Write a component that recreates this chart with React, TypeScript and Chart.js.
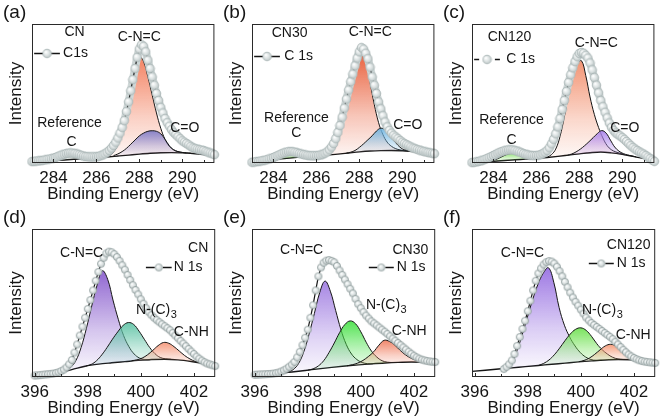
import React, { useEffect, useRef } from "react";
import { Chart, registerables } from "chart.js";

Chart.register(...registerables);

const FONT = '"Liberation Sans", Arial, Helvetica, sans-serif';
const INK = "#151515";

// ---------------- axes ----------------
const C_RANGE = [283, 291.5];
const N_RANGE = [395.9, 402.8];
const C_TICKS = [284, 286, 288, 290];
const C_MINOR = [285, 287, 289, 291];
const N_TICKS = [396, 398, 400, 402];
const N_MINOR = [397, 399, 401];
const Y_RANGE = [0, 100];

const EXP_STEP = 0.1;
const COMP_STEP = 0.2;
const BG_STEP = 0.5;

// ---------------- (a) CN, C 1s ----------------
const A_EXP_X0 = 283.0;
const A_EXP = [
  1.0, 1.2, 1.4, 1.5, 1.7, 1.9, 2.2, 2.5, 2.8, 3.1,
  3.5, 4.0, 4.6, 5.2, 5.8, 6.3, 6.8, 7.1, 7.2, 7.1,
  6.9, 6.5, 6.0, 5.5, 5.0, 4.7, 4.5, 4.4, 4.4, 4.4,
  4.5, 4.8, 5.2, 5.8, 6.6, 7.7, 9.0, 10.7, 12.6, 15.0,
  18.0, 21.5, 25.6, 30.5, 37, 44, 52, 60, 68, 76,
  82, 85, 84, 80, 74, 68, 62, 56, 50, 45,
  40, 36, 32, 29, 26.5, 24, 22, 20.5, 19, 17.5,
  16, 15, 14, 13, 12, 11, 10.5, 10, 9.6, 9.3,
  9, 8.4, 7.8, 7.2, 6.6, 6,
];
const A_BG_X0 = 283.0;
const A_BG = [0.8, 1.2, 1.7, 2.2, 2.7, 3.2, 3.7, 4.3, 5.0, 5.7, 6.4, 7.0, 7.4, 7.5, 7.3, 6.8, 6.0, 5.0];
const A_CNC_X0 = 286.4;
const A_CNC = [4.3, 5.2, 8, 13, 22, 36, 54, 69, 76.5, 73, 62, 49, 36, 25, 17, 12, 9.5, 8.2, 7.6, 7.2];
const A_CO_X0 = 286.8;
const A_CO = [5.3, 6.5, 8.2, 10.5, 13.5, 16.5, 19.5, 21.5, 22.8, 23.2, 22.8, 21, 17, 12.5, 9.5, 8.2, 7.6, 7.3, 7.1];
const A_REF_X0 = 283.8;
const A_REF = [1.6, 2.4, 3.3, 4.4, 5.3, 5.6, 5.3, 4.5, 3.7, 3.4, 3.5];

// ---------------- (b) CN30, C 1s ----------------
const B_EXP_X0 = 283.0;
const B_EXP = [
  0.5, 0.7, 0.9, 1.1, 1.4, 1.7, 2.0, 2.4, 2.9, 3.4,
  4.0, 4.6, 5.3, 6.0, 6.7, 7.3, 7.8, 8.1, 8.2, 8.1,
  7.8, 7.4, 6.9, 6.5, 6.1, 5.8, 5.5, 5.3, 5.2, 5.2,
  5.3, 5.5, 5.8, 6.3, 7.0, 8.0, 9.5, 11.5, 14, 17.5,
  22, 27, 33, 39.5, 46, 52.5, 58.5, 64, 70, 75.5,
  80, 83, 82, 79, 75, 69, 62, 56, 50, 44,
  39, 34, 29.5, 26, 23.5, 21.5, 20, 18.7, 17.5, 16.2,
  15, 14, 13.2, 12.4, 11.6, 10.8, 10.3, 9.8, 9.3, 8.8,
  8.4, 8.0, 7.6, 7.3, 7.0, 6.7,
];
const B_BG_X0 = 283.0;
const B_BG = [0.3, 1.2, 2.2, 3.2, 4.0, 4.6, 5.1, 5.7, 6.4, 7.2, 8.0, 8.6, 8.9, 9.0, 8.8, 8.2, 7.4, 6.6];
const B_CNC_X0 = 286.3;
const B_CNC = [5.5, 6.2, 8.5, 13, 21, 32, 46, 60, 71, 78, 72, 58, 42, 29, 20.5, 15, 12, 10.3, 9.4, 8.9, 8.6];
const B_CO_X0 = 287.4;
const B_CO = [7.1, 7.8, 9.0, 11.2, 13.8, 16.7, 19.6, 23, 25, 24, 20.5, 16.5, 12.8, 10.2, 9.2, 8.7, 8.3, 8.0];
const B_REF_X0 = 283.8;
const B_REF = [1.9, 3.2, 4.2, 5.4, 6.3, 6.6, 6.2, 5.5, 4.9, 4.6, 4.8];

// ---------------- (c) CN120, C 1s ----------------
const C_EXP_X0 = 283.0;
const C_EXP = [
  0.3, 0.5, 0.8, 1.1, 1.5, 2.0, 2.6, 3.2, 3.9, 4.6,
  5.4, 6.2, 7.0, 7.7, 8.3, 8.8, 9.2, 9.4, 9.5, 9.4,
  9.1, 8.6, 8.0, 7.4, 6.8, 6.3, 5.9, 5.6, 5.4, 5.3,
  5.4, 5.6, 6.0, 6.7, 7.7, 9.0, 11, 13.8, 17, 21,
  26, 32, 38.5, 45, 51.5, 58, 63.5, 68.5, 73, 76.5,
  78.8, 79.5, 79, 77.5, 75.5, 72, 67, 61.5, 56, 50.5,
  45, 40.5, 36.5, 32.5, 28.8, 25.7, 23.5, 21.7, 20.5, 19.5,
  18.3, 17, 15.5, 14, 12.5, 11.2, 10, 9, 8, 7.2,
  6.4, 5.4, 4.3, 3.2, 2.2, 1.2,
];
const C_BG_X0 = 283.0;
const C_BG = [0, 0.6, 1.2, 1.8, 2.3, 2.8, 3.3, 4.0, 4.8, 5.7, 6.6, 7.4, 7.9, 7.3, 6.2, 4.8, 3.3, 1.6];
const C_CNC_X0 = 286.5;
const C_CNC = [4.1, 6, 10, 19, 33, 49, 62, 71, 73.6, 63, 47.5, 35, 25.5, 18, 12.5, 9.5, 8, 7, 6];
const C_CO_X0 = 287.45;
const C_CO = [5.6, 6.5, 8.0, 10, 12.5, 15.3, 18.3, 21.3, 23.3, 21.5, 16.5, 11.5, 8.5, 6.8, 5.8, 5.1, 4.4];
const C_REF_X0 = 283.8;
const C_REF = [1.1, 1.9, 3.1, 4.6, 6.0, 6.9, 6.8, 5.9, 4.7, 3.7, 3.2];

// ---------------- (d) CN, N 1s ----------------
const D_EXP_X0 = 396.0;
const D_EXP = [
  1.0, 1.1, 1.3, 1.5, 1.7, 1.9, 2.1, 2.3, 2.7, 3.2,
  4.0, 5.0, 6.5, 8.6, 11.5, 16.5, 22, 28, 34, 40,
  46, 52, 58.5, 65, 71, 76.5, 80.5, 83.5, 84.7, 84.3,
  83, 81, 78.5, 75.5, 72.5, 69, 65.5, 62, 58.8, 55.8,
  52.5, 49.5, 46.5, 43.8, 41.8, 40, 38.4, 37, 35.6, 34.3,
  33, 31.6, 29.8, 28, 26.2, 24.4, 22.6, 20.8, 19, 17.2,
  15.5, 13.8, 12.4, 11.1, 10, 9.1, 8.5, 7.9, 7.4,
];
const D_BG_X0 = 395.9;
const D_BG = [0.5, 1.5, 3.0, 5.0, 7.3, 8.7, 9.6, 10.4, 11.2, 11.8, 12.0, 11.6, 10.5, 9.0, 7.2];
const D_CNC_X0 = 397.15;
const D_CNC = [4.5, 6.5, 11, 20, 33, 48, 62, 71.8, 66, 52, 39, 28, 20.5, 15.5, 12.8, 11.8, 11.7];
const D_NC3_X0 = 397.93;
const D_NC3 = [7.4, 8.5, 11, 15, 20, 25.5, 30.5, 34.8, 36.8, 35.5, 31, 25.5, 20, 15.8, 13.2, 12.3, 12];
const D_CNH_X0 = 399.65;
const D_CNH = [11.0, 11.6, 12.8, 15, 18, 21.2, 23.3, 22.8, 20.5, 17.5, 14.5, 12.2, 10.5, 9.5, 8.9, 8.2];

// ---------------- (e) CN30, N 1s ----------------
const E_EXP_X0 = 396.0;
const E_EXP = [
  1.5, 1.6, 1.7, 1.8, 1.9, 2.0, 2.1, 2.3, 2.6, 3.0,
  3.7, 4.5, 5.6, 6.9, 8.4, 10.2, 13.3, 17, 21.5, 26.5,
  32, 40, 48.5, 58.5, 68, 74, 77.2, 78.6, 79, 78.5,
  77.5, 75, 72, 69, 65.8, 62.7, 59.6, 56.5, 52.8, 49.2,
  46.5, 43.8, 41.5, 39.5, 37.6, 36.2, 34.8, 33.4, 32, 30.6,
  29.1, 27.5, 26, 24.5, 23, 21.5, 20, 18.5, 17.1, 15.7,
  14.4, 13.3, 12.4, 11.7, 11.2, 10.8, 10.5, 10.3, 10.1,
];
const E_BG_X0 = 395.9;
const E_BG = [0.8, 1.6, 2.5, 3.4, 4.4, 5.5, 6.5, 7.4, 8.2, 8.9, 9.5, 9.9, 10.1, 10.0, 9.6];
const E_CNC_X0 = 397.25;
const E_CNC = [3.2, 5, 9, 17, 29, 43, 57, 64.8, 58, 45, 32, 22, 15.5, 11.8, 9.8, 9, 8.9];
const E_NC3_X0 = 398.0;
const E_NC3 = [4.6, 5.5, 7.5, 11, 16.5, 23, 30, 35.5, 37.9, 36, 30.5, 23.5, 17.5, 13.5, 11, 10, 9.8];
const E_CNH_X0 = 399.48;
const E_CNH = [7.6, 8.3, 9.4, 11.2, 13.8, 17, 21.5, 24.8, 24, 21.5, 18, 15, 12.8, 11.3, 10.6, 10.2, 10];

// ---------------- (f) CN120, N 1s ----------------
const F_EXP_X0 = 397.1;
const F_EXP = [
  5.4, 6.8, 8.6, 11.2, 15.5, 21, 27, 32.5, 38,
  44.5, 51.5, 58.5, 65, 70, 73.4, 76, 77.6, 78.3, 78,
  76.7, 74.5, 71.5, 68, 64.3, 60.6, 57, 53.7, 50.8, 48.2,
  45.5, 42.8, 40.2, 38.2, 36.5, 35.1, 33.8, 32.5, 31.1, 29.7,
  28.4, 27.1, 25.6, 23.8, 22, 20.2, 18.4, 16.7, 15.2, 13.9,
  12.9, 12, 11.3, 10.8, 10.4, 10.1, 9.9, 9.7, 9.5,
];
const F_BG_X0 = 395.9;
const F_BG = [3.8, 4.6, 5.4, 6.2, 7.0, 7.8, 8.6, 9.4, 10.2, 10.9, 11.5, 11.8, 11.7, 11.0, 10.0];
const F_CNC_X0 = 397.18;
const F_CNC = [6.4, 9.5, 17, 28, 40, 52, 62.5, 70, 73.8, 64, 47, 35, 27, 21, 16.5, 13.5, 11.8, 11.2, 11.3];
const F_NC3_X0 = 398.4;
const F_NC3 = [7.8, 9.2, 11.5, 15, 19.5, 24.5, 29, 32.2, 33.2, 31.5, 27.5, 22.5, 18.5, 15.5, 13.3, 12.2, 11.8];
const F_CNH_X0 = 399.92;
const F_CNH = [10.3, 11.2, 12.8, 15.3, 18.3, 21, 22.1, 21, 18.5, 15.8, 13.6, 12.2, 11.4, 10.9, 10.4];

// ---------------- panel definitions ----------------
type Comp = { x0: number; v: number[]; color: number[]; a0?: number };
type Label = { t: string; x: number; y: number; align: CanvasTextAlign; sub?: string };
type Panel = {
  id: string; tag: string; col: number; row: number; kind: "C" | "N";
  exp: { x0: number; v: number[] }; bg: { x0: number; v: number[] };
  comps: Comp[]; labels: Label[];
  legend: { x1: number; x2: number; y: number; tx: number; text: string; short?: boolean };
};

const PANELS: Panel[] = [
  {
    id: "a", tag: "(a)", col: 0, row: 0, kind: "C",
    exp: { x0: A_EXP_X0, v: A_EXP }, bg: { x0: A_BG_X0, v: A_BG },
    comps: [
      { x0: A_REF_X0, v: A_REF, color: [190, 210, 190], a0: 0.4 },
      { x0: A_CO_X0, v: A_CO, color: [128, 124, 200] },
      { x0: A_CNC_X0, v: A_CNC, color: [242, 120, 85] },
    ],
    labels: [
      { t: "CN", x: 284.98, y: 94.2, align: "center" },
      { t: "C-N=C", x: 288.0, y: 90.6, align: "center" },
      { t: "C=O", x: 290.12, y: 25.2, align: "center" },
      { t: "Reference", x: 284.75, y: 28.8, align: "center" },
      { t: "C", x: 284.84, y: 15.1, align: "center" },
    ],
    legend: { x1: 283.1, x2: 284.3, y: 79, tx: 284.45, text: "C1s" },
  },
  {
    id: "b", tag: "(b)", col: 1, row: 0, kind: "C",
    exp: { x0: B_EXP_X0, v: B_EXP }, bg: { x0: B_BG_X0, v: B_BG },
    comps: [
      { x0: B_REF_X0, v: B_REF, color: [150, 235, 120] },
      { x0: B_CO_X0, v: B_CO, color: [110, 180, 225] },
      { x0: B_CNC_X0, v: B_CNC, color: [232, 88, 50] },
    ],
    labels: [
      { t: "CN30", x: 284.75, y: 93.5, align: "center" },
      { t: "C-N=C", x: 288.51, y: 94.2, align: "center" },
      { t: "C=O", x: 290.26, y: 27.3, align: "center" },
      { t: "Reference", x: 285.07, y: 32.4, align: "center" },
      { t: "C", x: 285.07, y: 21.6, align: "center" },
    ],
    legend: { x1: 283.1, x2: 284.3, y: 77, tx: 284.5, text: "C 1s" },
  },
  {
    id: "c", tag: "(c)", col: 2, row: 0, kind: "C",
    exp: { x0: C_EXP_X0, v: C_EXP }, bg: { x0: C_BG_X0, v: C_BG },
    comps: [
      { x0: C_REF_X0, v: C_REF, color: [140, 225, 110] },
      { x0: C_CO_X0, v: C_CO, color: [170, 130, 235] },
      { x0: C_CNC_X0, v: C_CNC, color: [242, 140, 105] },
    ],
    labels: [
      { t: "CN120", x: 284.75, y: 90.6, align: "center" },
      { t: "C-N=C", x: 288.79, y: 86.3, align: "center" },
      { t: "C=O", x: 290.12, y: 25.2, align: "center" },
      { t: "Reference", x: 284.84, y: 30.9, align: "center" },
      { t: "C", x: 284.84, y: 16.5, align: "center" },
    ],
    legend: { x1: 283.1, x2: 284.3, y: 74.8, tx: 284.6, text: "C 1s", short: true },
  },
  {
    id: "d", tag: "(d)", col: 0, row: 1, kind: "N",
    exp: { x0: D_EXP_X0, v: D_EXP }, bg: { x0: D_BG_X0, v: D_BG },
    comps: [
      { x0: D_CNH_X0, v: D_CNH, color: [245, 150, 120] },
      { x0: D_NC3_X0, v: D_NC3, color: [95, 195, 165] },
      { x0: D_CNC_X0, v: D_CNC, color: [135, 90, 205] },
    ],
    labels: [
      { t: "C-N=C", x: 397.77, y: 83.8, align: "center" },
      { t: "CN", x: 402.54, y: 87.2, align: "right" },
      { t: "N-(C)", x: 399.82, y: 45.3, align: "left", sub: "3" },
      { t: "C-NH", x: 401.24, y: 30.4, align: "left" },
    ],
    legend: { x1: 400.19, x2: 401.16, y: 74.3, tx: 401.24, text: "N 1s" },
  },
  {
    id: "e", tag: "(e)", col: 1, row: 1, kind: "N",
    exp: { x0: E_EXP_X0, v: E_EXP }, bg: { x0: E_BG_X0, v: E_BG },
    comps: [
      { x0: E_CNH_X0, v: E_CNH, color: [240, 125, 95] },
      { x0: E_NC3_X0, v: E_NC3, color: [70, 225, 70] },
      { x0: E_CNC_X0, v: E_CNC, color: [160, 125, 225] },
    ],
    labels: [
      { t: "C-N=C", x: 397.77, y: 85.8, align: "center" },
      { t: "CN30", x: 402.54, y: 85.8, align: "right" },
      { t: "N-(C)", x: 400.19, y: 48.6, align: "left", sub: "3" },
      { t: "C-NH", x: 401.16, y: 31.1, align: "left" },
    ],
    legend: { x1: 400.3, x2: 401.24, y: 74.3, tx: 401.35, text: "N 1s" },
  },
  {
    id: "f", tag: "(f)", col: 2, row: 1, kind: "N",
    exp: { x0: F_EXP_X0, v: F_EXP }, bg: { x0: F_BG_X0, v: F_BG },
    comps: [
      { x0: F_CNH_X0, v: F_CNH, color: [245, 150, 115] },
      { x0: F_NC3_X0, v: F_NC3, color: [110, 225, 80] },
      { x0: F_CNC_X0, v: F_CNC, color: [150, 110, 225] },
    ],
    labels: [
      { t: "C-N=C", x: 397.8, y: 83.8, align: "center" },
      { t: "CN120", x: 402.62, y: 89.2, align: "right" },
      { t: "N-(C)", x: 400.04, y: 45.3, align: "left", sub: "3" },
      { t: "C-NH", x: 401.31, y: 28.4, align: "left" },
    ],
    legend: { x1: 400.3, x2: 401.24, y: 77, tx: 401.35, text: "N 1s" },
  },
];

// ---------------- layout (pixels) ----------------
const COL_W = 220;
const ROW_TOP = [0, 205];
const ROW_H = [205, 214];
const AREA_TOP = 24;
const AREA_LEFT = 32;
const RIGHT_PAD = 3;
const XAXIS_H = 42;

function pts(x0: number, step: number, v: number[]) {
  return v.map((y, i) => ({ x: Math.round((x0 + i * step) * 1000) / 1000, y }));
}

function makeSprite(r: number, edge: string) {
  const c = document.createElement("canvas");
  const s = Math.ceil(r * 2 + 2);
  c.width = s;
  c.height = s;
  const g = c.getContext("2d")!;
  const cx = s / 2, cy = s / 2;
  const grad = g.createRadialGradient(cx - r * 0.3, cy - r * 0.35, r * 0.1, cx, cy, r);
  grad.addColorStop(0, "#fdfefe");
  grad.addColorStop(0.55, "#dde3e3");
  grad.addColorStop(1, "#b9c3c3");
  g.fillStyle = grad;
  g.beginPath();
  g.arc(cx, cy, r, 0, Math.PI * 2);
  g.fill();
  g.lineWidth = 0.7;
  g.strokeStyle = edge;
  g.stroke();
  return c;
}

function gradFill(color: number[], peak: number, base: number, a0 = 0.92) {
  const [r, g, b] = color;
  return (ctx: any) => {
    const chart = ctx.chart;
    const area = chart.chartArea;
    if (!area) return `rgba(${r},${g},${b},0.5)`;
    const ys = chart.scales.y;
    const y0 = ys.getPixelForValue(peak);
    const y1 = Math.max(ys.getPixelForValue(base), y0 + 1);
    const gr = chart.ctx.createLinearGradient(0, y0, 0, y1);
    gr.addColorStop(0, `rgba(${r},${g},${b},${a0})`);
    gr.addColorStop(0.6, `rgba(${r},${g},${b},${a0 * 0.38})`);
    gr.addColorStop(1, `rgba(${r},${g},${b},0.06)`);
    return gr;
  };
}

function makePlugin(p: Panel, sprite: HTMLCanvasElement) {
  const isC = p.kind === "C";
  return {
    id: "deco_" + p.id,
    afterDatasetsDraw(chart: any) {
      const { ctx, chartArea: a } = chart;
      const xs = chart.scales.x;
      const ys = chart.scales.y;
      ctx.save();
      // frame
      ctx.strokeStyle = "#2a2a2a";
      ctx.lineWidth = 1;
      ctx.strokeRect(a.left + 0.5, a.top + 0.5, a.right - a.left - 1, a.bottom - a.top - 1);
      // inward ticks
      const major = isC ? C_TICKS : N_TICKS;
      const minor = isC ? C_MINOR : N_MINOR;
      ctx.beginPath();
      major.forEach((v) => {
        const px = Math.round(xs.getPixelForValue(v)) + 0.5;
        ctx.moveTo(px, a.bottom);
        ctx.lineTo(px, a.bottom - 4);
      });
      minor.forEach((v) => {
        const px = Math.round(xs.getPixelForValue(v)) + 0.5;
        if (px > a.right - 1) return;
        ctx.moveTo(px, a.bottom);
        ctx.lineTo(px, a.bottom - 3);
      });
      ctx.stroke();
      // legend
      const L = p.legend;
      const lx1 = xs.getPixelForValue(L.x1);
      const lx2 = xs.getPixelForValue(L.x2);
      const ly = Math.round(ys.getPixelForValue(L.y)) + 0.5;
      const mid = (lx1 + lx2) / 2;
      ctx.strokeStyle = INK;
      ctx.lineWidth = 1.6;
      ctx.beginPath();
      if (L.short) {
        ctx.moveTo(lx1, ly); ctx.lineTo(lx1 + 5, ly);
        ctx.moveTo(lx2 - 5, ly); ctx.lineTo(lx2, ly);
      } else {
        ctx.moveTo(lx1, ly); ctx.lineTo(mid - 4, ly);
        ctx.moveTo(mid + 4, ly); ctx.lineTo(lx2, ly);
      }
      ctx.stroke();
      ctx.drawImage(sprite, mid - sprite.width / 2, ly - sprite.height / 2);
      ctx.fillStyle = INK;
      ctx.font = `14px ${FONT}`;
      ctx.textBaseline = "middle";
      ctx.textAlign = "left";
      ctx.fillText(L.text, xs.getPixelForValue(L.tx), ly);
      // annotations
      p.labels.forEach((lb) => {
        const px = xs.getPixelForValue(lb.x);
        const py = ys.getPixelForValue(lb.y);
        ctx.font = `14px ${FONT}`;
        ctx.textAlign = lb.align;
        ctx.fillText(lb.t, px, py);
        if (lb.sub) {
          const w = ctx.measureText(lb.t).width;
          ctx.font = `11px ${FONT}`;
          ctx.textAlign = "left";
          ctx.fillText(lb.sub, px + w + 0.5, py + 5);
        }
      });
      // panel tag
      ctx.font = `19px ${FONT}`;
      ctx.textAlign = "left";
      ctx.fillText(p.tag, 3, 13);
      ctx.restore();
    },
  };
}

function buildConfig(p: Panel) {
  const isC = p.kind === "C";
  const range = isC ? C_RANGE : N_RANGE;
  const ticks = isC ? C_TICKS : N_TICKS;
  const r = isC ? 4.4 : 3.6;
  const sprite = makeSprite(r, isC ? "rgba(160,172,172,0.7)" : "rgba(135,150,150,0.9)");
  const expData = pts(p.exp.x0, EXP_STEP, p.exp.v);
  const datasets: any[] = [];
  datasets.push({
    label: "exp",
    data: expData,
    borderColor: INK,
    borderWidth: 1.2,
    pointStyle: sprite,
    pointRadius: r,
    pointHoverRadius: r,
    fill: false,
    tension: 0,
    clip: false,
  });
  if (isC) {
    // soft grey tube under the dense C 1s markers
    datasets.push({
      label: "expBand",
      data: expData,
      borderColor: "#cfd7d7",
      borderWidth: 8,
      borderCapStyle: "round",
      borderJoinStyle: "round",
      pointRadius: 0,
      fill: false,
      tension: 0.2,
      clip: false,
    });
  }
  const bgIndex = datasets.length + p.comps.length;
  p.comps.forEach((c, i) => {
    datasets.push({
      label: "comp" + i,
      data: pts(c.x0, COMP_STEP, c.v),
      borderColor: INK,
      borderWidth: 1,
      pointRadius: 0,
      tension: 0.4,
      fill: bgIndex,
      backgroundColor: gradFill(c.color, Math.max(...c.v), Math.min(...c.v), c.a0 ?? 0.92),
    });
  });
  datasets.push({
    label: "bg",
    data: pts(p.bg.x0, BG_STEP, p.bg.v),
    borderColor: INK,
    borderWidth: 1.4,
    pointRadius: 0,
    cubicInterpolationMode: "monotone",
    fill: false,
  });

  return {
    type: "line",
    data: { datasets },
    options: {
      responsive: false,
      animation: false,
      events: [],
      layout: { padding: { top: AREA_TOP, right: RIGHT_PAD, left: 0, bottom: 0 } },
      plugins: { legend: { display: false }, tooltip: { enabled: false } },
      scales: {
        x: {
          type: "linear",
          min: range[0],
          max: range[1],
          afterBuildTicks: (s: any) => {
            s.ticks = ticks.map((v) => ({ value: v }));
          },
          afterFit: (s: any) => {
            s.height = XAXIS_H;
          },
          grid: { display: false, drawTicks: false },
          border: { display: false },
          ticks: {
            color: INK,
            font: { family: FONT, size: 17 },
            padding: 5,
            maxRotation: 0,
            autoSkip: false,
            callback: (v: any) => String(v),
          },
          title: {
            display: true,
            text: "Binding Energy (eV)",
            color: INK,
            font: { family: FONT, size: 17 },
            padding: { top: 0, bottom: 0 },
          },
        },
        y: {
          min: Y_RANGE[0],
          max: Y_RANGE[1],
          afterFit: (s: any) => {
            s.width = AREA_LEFT;
          },
          grid: { display: false, drawTicks: false },
          border: { display: false },
          ticks: { display: false },
          title: {
            display: true,
            text: "Intensity",
            color: INK,
            font: { family: FONT, size: 17 },
            padding: { top: 6, bottom: 0 },
          },
        },
      },
    },
    plugins: [makePlugin(p, sprite)],
  };
}

function PanelChart({ p }: { p: Panel }) {
  const ref = useRef<HTMLCanvasElement | null>(null);
  useEffect(() => {
    if (!ref.current) return;
    const chart = new Chart(ref.current, buildConfig(p) as any);
    return () => chart.destroy();
  }, [p]);
  return (
    <div style={{ position: "absolute", left: p.col * COL_W, top: ROW_TOP[p.row], width: COL_W, height: ROW_H[p.row] }}>
      <canvas ref={ref} width={COL_W} height={ROW_H[p.row]} style={{ display: "block" }} />
    </div>
  );
}

export default function App() {
  return (
    <div style={{ position: "fixed", left: 0, top: 0, width: 661, height: 419, background: "#fff", overflow: "hidden" }}>
      {PANELS.map((p) => (
        <PanelChart key={p.id} p={p} />
      ))}
    </div>
  );
}
